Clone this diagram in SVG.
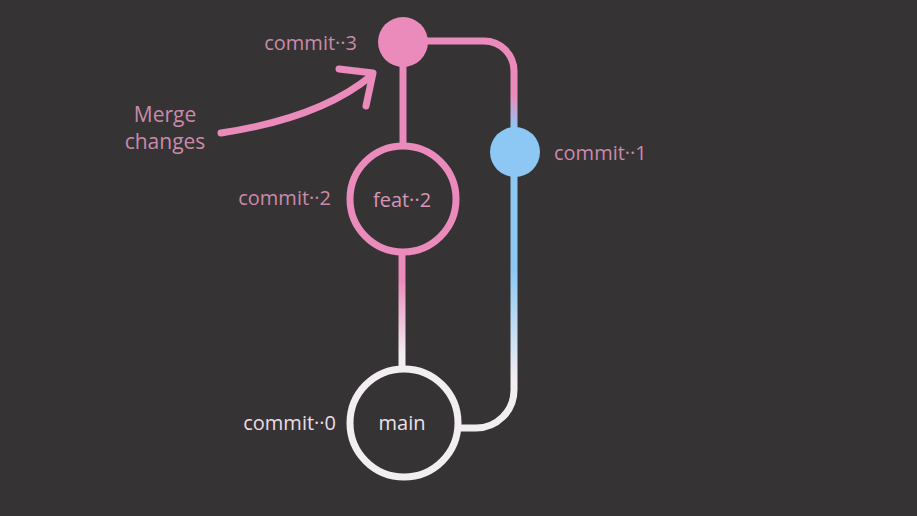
<svg xmlns="http://www.w3.org/2000/svg" width="917" height="516" viewBox="0 0 917 516">
<defs>
<linearGradient id="gTop" gradientUnits="userSpaceOnUse" x1="0" y1="95" x2="0" y2="128">
<stop offset="0" stop-color="#ea8bbb"/><stop offset="1" stop-color="#8dc8f4"/>
</linearGradient>
<linearGradient id="gRight" gradientUnits="userSpaceOnUse" x1="0" y1="270" x2="0" y2="380">
<stop offset="0" stop-color="#8dc8f4"/><stop offset="1" stop-color="#f2eef2"/>
</linearGradient>
<linearGradient id="gMid" gradientUnits="userSpaceOnUse" x1="0" y1="280" x2="0" y2="355">
<stop offset="0" stop-color="#ea8bbb"/><stop offset="1" stop-color="#f2eef2"/>
</linearGradient>
<style>
.lbl{font-family:"Open Sans","Lato","Liberation Sans",sans-serif;font-size:20px;fill:#c98aab}
.big{font-size:21px}
.in{font-family:"Open Sans","Lato","Liberation Sans",sans-serif;font-size:20px;text-anchor:middle}
.edge{fill:none;stroke-width:7;stroke-linecap:butt}
</style>
</defs>
<rect width="917" height="516" fill="#363334"/>
<g id="connectors">
<path class="edge" d="M 427 41 H 484 A 30 30 0 0 1 514 71 V 130" stroke="url(#gTop)"/>
<path class="edge" d="M 514 175 V 390 A 38 38 0 0 1 476 428 H 460" stroke="url(#gRight)"/>
<path class="edge" d="M 403 66 V 146" stroke="#ea8bbb"/>
<path class="edge" d="M 402 254 V 370" stroke="url(#gMid)"/>
</g>
<g id="arrow" fill="none" stroke="#ea8bbb" stroke-width="7" stroke-linecap="round" stroke-linejoin="round">
<path d="M 221 133 Q 320 118 371 76"/>
<path d="M 339 69 L 373 73 L 366 106"/>
</g>
<text class="lbl big" x="165" y="122" text-anchor="middle">Merge</text>
<text class="lbl big" x="165" y="149" text-anchor="middle">changes</text>
<g id="commit3">
<circle cx="403" cy="42" r="25" fill="#ea8bbb"/>
<text class="lbl" x="357" y="50" text-anchor="end">commit··3</text>
</g>
<g id="commit1">
<circle cx="515" cy="152" r="25" fill="#8dc8f4"/>
<text class="lbl" x="554" y="160">commit··1</text>
</g>
<g id="feat2">
<circle cx="403" cy="199" r="53" fill="#363334" stroke="#ea8bbb" stroke-width="7"/>
<text class="in" x="402" y="207" fill="#d697b7">feat··2</text>
<text class="lbl" x="331" y="205" text-anchor="end">commit··2</text>
</g>
<g id="main">
<circle cx="404" cy="423" r="54" fill="#363334" stroke="#f2eef2" stroke-width="7"/>
<text class="in" x="402" y="430" fill="#ebe2ea">main</text>
<text class="lbl" x="336" y="430" text-anchor="end" style="fill:#ecdbe6">commit··0</text>
</g>
</svg>
